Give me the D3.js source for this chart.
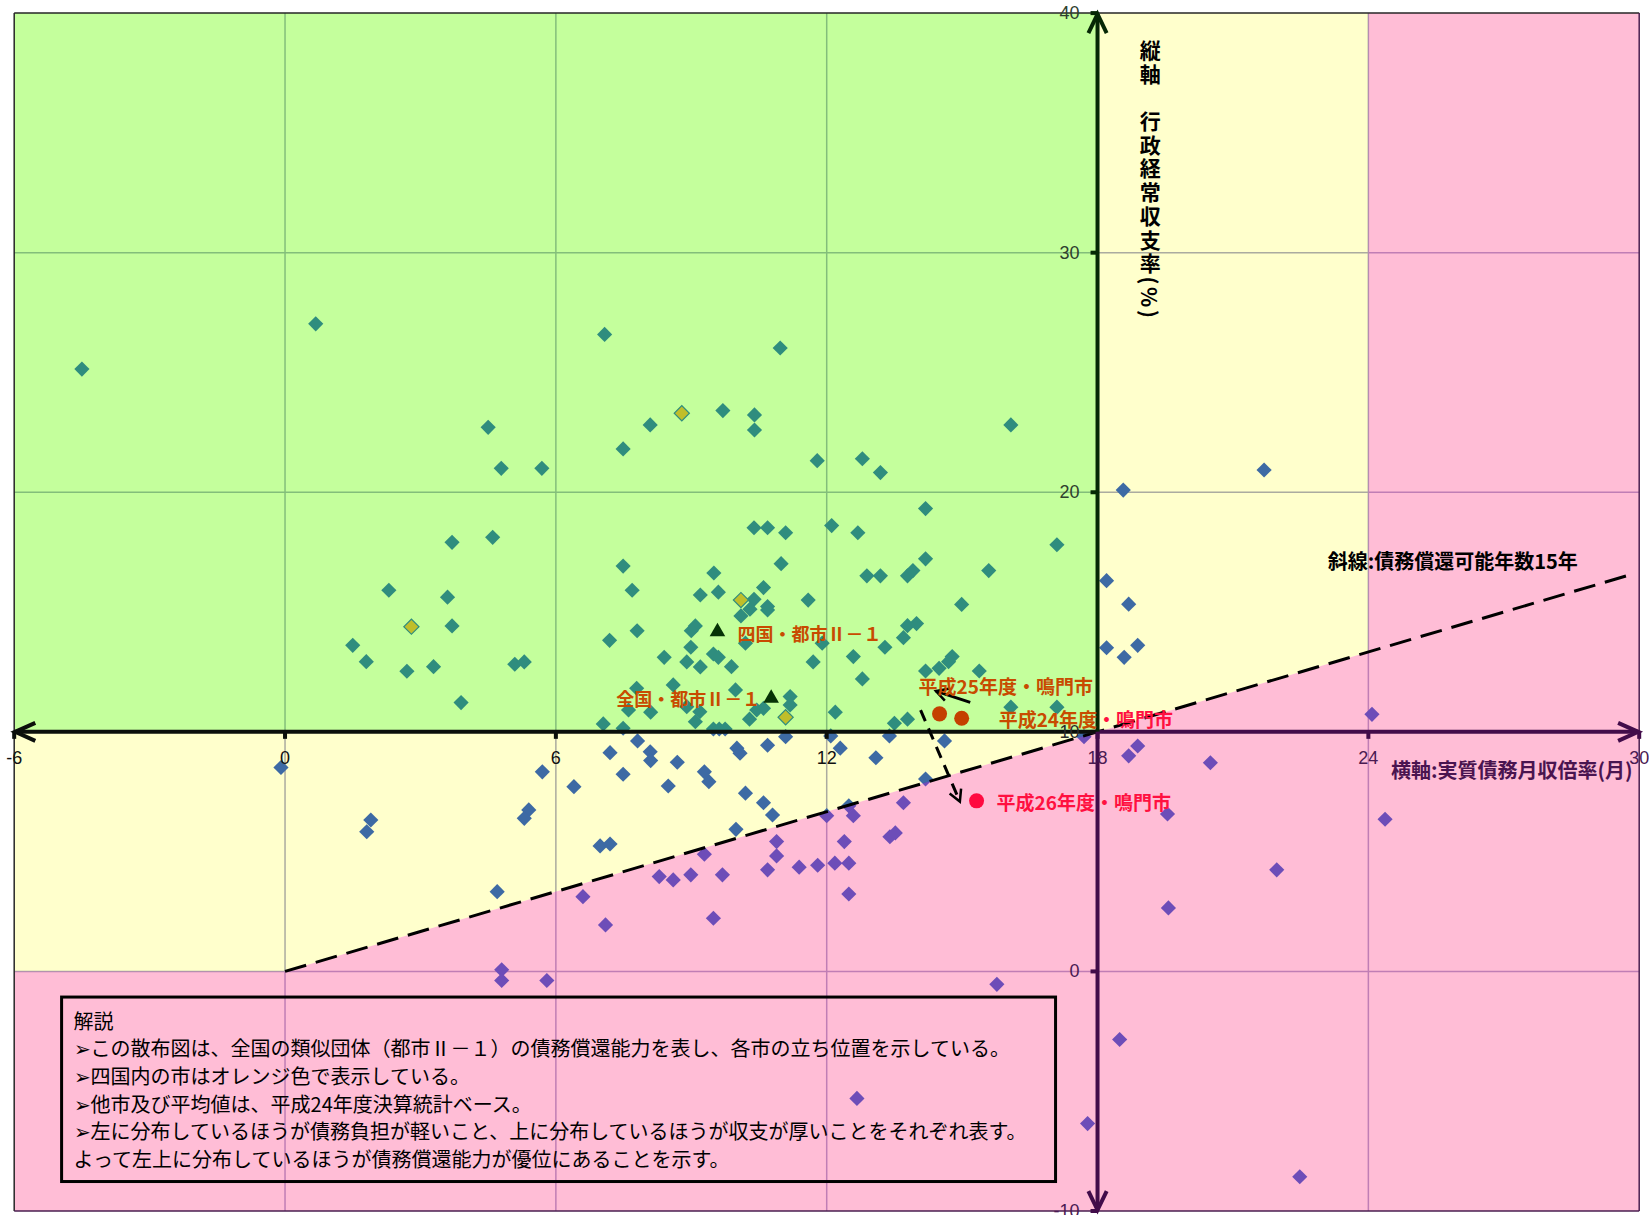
<!DOCTYPE html>
<html><head><meta charset="utf-8">
<script src="https://cdn.jsdelivr.net/npm/d3@7"></script>
<style>body{margin:0;background:#fff;}svg{display:block;}</style>
</head><body>
<svg id="c" width="1649" height="1215"></svg>
<script>
// ---------------- data ----------------
const xTicks = [-6, 0, 6, 12, 18, 24, 30];
const yTicks = [-10, 0, 10, 20, 30, 40];
const xGrid = [0, 6, 12, 24];
const yGrid = [0, 20, 30];
const crossX = 18, crossY = 10;
const repayYears = 15; // 斜線: 債務償還可能年数15年

// 全国の類似団体（都市Ⅱ－１） [実質債務月収倍率(月), 行政経常収支率(%)]
const nationalCities = [
 [-4.50,25.14],[0.68,27.03],[7.08,26.59],[10.97,26.02],[4.50,22.71],[4.79,21.00],[5.69,21.00],
 [3.70,17.91],[4.60,18.12],[2.30,15.91],[3.60,15.62],[3.70,14.42],[1.50,13.61],[1.80,12.93],
 [2.70,12.53],[3.29,12.72],[3.90,11.22],[5.09,12.82],[5.30,12.92],
 [9.70,23.41],[8.09,22.81],[10.40,23.23],[10.40,22.60],[7.49,21.81],[11.79,21.32],[12.11,18.61],
 [10.39,18.52],[10.69,18.52],[11.09,18.31],[7.49,16.92],[10.99,17.02],[9.50,16.63],[7.69,15.91],
 [9.20,15.71],[9.60,15.83],[10.60,16.02],[10.39,15.53],[10.30,15.12],[10.69,15.23],[10.69,15.09],
 [10.10,14.84],[11.59,15.50],[9.09,14.42],[9.00,14.22],[7.80,14.22],[7.19,13.82],[10.20,13.70],
 [11.90,13.70],[8.99,13.53],[8.40,13.11],[8.90,12.92],[9.49,13.25],[9.60,13.11],[9.20,12.71],
 [9.89,12.72],[11.70,12.92],[8.60,11.96],[7.79,11.82],[9.98,11.75],[11.19,11.47],[11.19,11.12],
 [7.61,10.91],[8.10,10.82],[8.90,11.05],[9.19,10.84],[10.45,10.91],[10.60,10.98],[10.29,10.53],
 [7.05,10.33],[7.49,10.15],[9.09,10.42],[12.19,10.82],[9.49,10.12],[9.62,10.12],[9.75,10.12],
 [16.08,22.81],[12.79,21.40],[13.19,20.82],[14.19,19.32],[12.69,18.31],[17.10,17.81],[14.19,17.22],
 [12.89,16.51],[13.19,16.51],[13.79,16.51],[13.91,16.73],[15.59,16.73],[14.99,15.32],[13.79,14.43],
 [13.99,14.52],[13.70,13.93],[13.29,13.53],[12.59,13.14],[12.79,12.21],[14.78,13.14],[14.70,12.93],
 [14.49,12.65],[14.19,12.54],[15.38,12.54],[16.08,11.03],[17.10,11.03],[13.50,10.36],[13.79,10.53],
 [7.81,9.62],[7.20,9.13],[8.09,9.17],[8.10,8.80],[8.69,8.73],[7.49,8.23],[6.40,7.71],[8.49,7.74],
 [9.29,8.33],[9.39,7.92],[10.01,9.32],[10.08,9.11],[10.69,9.44],[11.09,9.80],[12.09,9.83],
 [12.30,9.32],[13.09,8.92],[13.39,9.83],[14.61,9.62],[10.20,7.44],[10.60,7.04],[10.80,6.53],
 [9.99,5.93],[6.98,5.24],[7.20,5.32],[14.19,8.03],[-0.09,8.51],[1.90,6.32],[1.81,5.83],
 [5.40,6.74],[5.30,6.39],[5.70,8.33],[4.70,3.33],
 [18.20,16.31],[18.69,15.33],[18.20,13.51],[18.89,13.61],[18.59,13.11],[18.57,20.09],[21.69,20.93],
 [12.00,6.50],[12.49,6.91],[12.59,6.50],[13.70,7.04],[13.40,5.62],[13.52,5.78],[12.39,5.42],
 [12.49,4.52],[12.18,4.52],[11.80,4.43],[11.39,4.35],[10.89,5.42],[10.89,4.82],[10.69,4.24],
 [9.69,4.03],[8.99,4.03],[8.60,3.82],[8.29,3.96],[9.29,4.89],[6.60,3.12],[7.10,1.94],[9.49,2.22],
 [12.49,3.23],[4.80,0.07],[4.80,-0.38],[5.80,-0.38],[17.70,9.80],[24.08,10.73],[18.89,9.41],
 [18.69,9.00],[20.50,8.71],[19.55,6.57],[24.37,6.35],[21.97,4.24],[19.57,2.65],[15.77,-0.54],
 [18.49,-2.84],[17.78,-6.35],[22.48,-8.57],[12.67,-5.30]
];
// 四国内の市（オレンジ色）
const shikokuCities = [[8.79,23.30],[10.10,15.50],[2.80,14.39],[11.09,10.61]];

// 平均値
const avgNames = ["四国・都市Ⅱ－１", "全国・都市Ⅱ－１"];
const avgX = [9.58, 10.77];
const avgY = [14.18, 11.40];

// 鳴門市
const narutoNames = ["平成24年度・鳴門市", "平成25年度・鳴門市", "平成26年度・鳴門市"];
const narutoX = [14.99, 14.50, 15.32];
const narutoY = [10.57, 10.75, 7.12];

const notes = [
 "解説",
 "➢この散布図は、全国の類似団体（都市Ⅱ－１）の債務償還能力を表し、各市の立ち位置を示している。",
 "➢四国内の市はオレンジ色で表示している。",
 "➢他市及び平均値は、平成24年度決算統計ベース。",
 "➢左に分布しているほうが債務負担が軽いこと、上に分布しているほうが収支が厚いことをそれぞれ表す。",
 "よって左上に分布しているほうが債務償還能力が優位にあることを示す。"
];

// ---------------- drawing ----------------
const W = 1649, H = 1215;
const x = d3.scaleLinear().domain([-6, 30]).range([14.2, 1639.2]);
const y = d3.scaleLinear().domain([-10, 40]).range([1211, 13.1]);
const lineY = v => v * 100 / (12 * repayYears);
const svg = d3.select("#c");
const CJK = "'Noto Sans CJK JP','Noto Sans',sans-serif";
const NUM = "'Liberation Sans','DejaVu Sans',sans-serif";

svg.append("rect").attr("width", W).attr("height", H).attr("fill", "#fff");

const baseG = svg.append("g");
// gridlines
baseG.selectAll("line.gx").data(xGrid).join("line").attr("class", "gx")
  .attr("x1", d => x(d)).attr("x2", d => x(d)).attr("y1", y(40)).attr("y2", y(-10))
  .attr("stroke", "rgb(150,150,200)").attr("stroke-width", 1.5);
baseG.selectAll("line.gy").data(yGrid).join("line").attr("class", "gy")
  .attr("y1", d => y(d)).attr("y2", d => y(d)).attr("x1", x(-6)).attr("x2", x(30))
  .attr("stroke", "rgb(150,150,200)").attr("stroke-width", 1.5);

// markers
const diamond = d3.symbol().type(d3.symbolSquare).size(115);
baseG.selectAll("path.nat").data(nationalCities).join("path").attr("class", "nat")
  .attr("d", diamond)
  .attr("transform", d => `translate(${x(d[0])},${y(d[1])}) rotate(45)`)
  .attr("fill", "rgb(13,69,206)");
baseG.selectAll("path.shk").data(shikokuCities).join("path").attr("class", "shk")
  .attr("d", diamond)
  .attr("transform", d => `translate(${x(d[0])},${y(d[1])}) rotate(45)`)
  .attr("fill", "rgb(248,150,70)").attr("stroke", "rgb(13,69,206)").attr("stroke-width", 1.2);

// translucent regions
const greenPoly = [[-6, crossY], [crossX, crossY], [crossX, 40], [-6, 40]];
const yellowPoly = [[-6, 0], [0, 0], [24, lineY(24)], [24, 40], [crossX, 40], [crossX, crossY], [-6, crossY]];
const pinkPoly = [[-6, -10], [30, -10], [30, 40], [24, 40], [24, lineY(24)], [0, 0], [-6, 0]];
const poly = d3.line().x(d => x(d[0])).y(d => y(d[1]));
const ov = svg.append("g");
ov.append("path").attr("d", poly(greenPoly) + "Z").attr("fill", "rgba(104,255,1,0.39)");
ov.append("path").attr("d", poly(yellowPoly) + "Z").attr("fill", "rgba(255,255,0,0.2)");
ov.append("path").attr("d", poly(pinkPoly) + "Z").attr("fill", "rgba(255,90,152,0.4)");

const topG = svg.append("g");
// plot border
topG.append("line").attr("x1", x(-6)).attr("x2", x(30)).attr("y1", y(40)).attr("y2", y(40)).attr("stroke", "#262626").attr("stroke-width", 1.5);
topG.append("line").attr("x1", x(-6)).attr("x2", x(-6)).attr("y1", y(40)).attr("y2", y(-10)).attr("stroke", "#262626").attr("stroke-width", 1.5);
topG.append("line").attr("x1", x(30)).attr("x2", x(30)).attr("y1", y(40)).attr("y2", y(-10)).attr("stroke", "#4a1f50").attr("stroke-width", 1.5);
topG.append("line").attr("x1", x(-6)).attr("x2", x(30)).attr("y1", y(-10)).attr("y2", y(-10)).attr("stroke", "#4a1f50").attr("stroke-width", 1.5);

// dashed 15-year line
topG.append("line").attr("x1", x(0)).attr("y1", y(0)).attr("x2", x(29.75)).attr("y2", y(lineY(29.75)))
  .attr("stroke", "#000").attr("stroke-width", 3).attr("stroke-dasharray", "22,10");

// axes
const dark = "#0b0f0b", darkG = "#062806", purp = "#420c4a";
function seg(x1, y1, x2, y2, c, w) {
  topG.append("line").attr("x1", x1).attr("y1", y1).attr("x2", x2).attr("y2", y2)
    .attr("stroke", c).attr("stroke-width", w);
}
function head(tx, ty, fx, fy, len, ang, c, w, g) {
  const a = Math.atan2(fy - ty, fx - tx);
  const p1 = [tx + len * Math.cos(a + ang), ty + len * Math.sin(a + ang)];
  const p2 = [tx + len * Math.cos(a - ang), ty + len * Math.sin(a - ang)];
  (g || topG).append("path").attr("d", `M${p1[0]},${p1[1]}L${tx},${ty}L${p2[0]},${p2[1]}`)
    .attr("fill", "none").attr("stroke", c).attr("stroke-width", w)
    .attr("stroke-linejoin", "miter").attr("stroke-linecap", "butt");
}
const ax = x(crossX), ay = y(crossY);
// ticks
xTicks.forEach(t => {
  topG.append("rect").attr("x", x(t) - 2).attr("y", ay).attr("width", 4).attr("height", 7)
    .attr("fill", t >= crossX ? purp : dark);
});
yTicks.forEach(t => {
  topG.append("rect").attr("x", ax - 7).attr("y", y(t) - 2).attr("width", 7).attr("height", 4)
    .attr("fill", t <= crossY ? purp : darkG);
});
seg(x(-6) + 1, ay, ax, ay, dark, 4);
seg(ax, ay, x(30) - 1, ay, purp, 4);
seg(ax, y(40) + 1, ax, ay, darkG, 4);
seg(ax, ay, ax, y(-10) - 1, purp, 4);
head(x(-6) + 1, ay, x(0), ay, 22, 0.42, dark, 4);
head(x(30) - 1, ay, x(24), ay, 22, 0.42, purp, 4);
head(ax, y(40) + 1, ax, y(30), 21, 0.45, darkG, 4);
head(ax, y(-10) - 1, ax, y(0), 21, 0.45, purp, 4);

// tick labels
topG.selectAll("text.xl").data(xTicks).join("text").attr("class", "xl")
  .attr("x", d => x(d)).attr("y", ay + 26).attr("text-anchor", "middle")
  .attr("dominant-baseline", "central").attr("font-family", NUM).attr("font-size", 18)
  .attr("fill", d => d >= crossX ? "#4a1a52" : "#111").text(d => d);
topG.selectAll("text.yl").data(yTicks).join("text").attr("class", "yl")
  .attr("x", ax - 18).attr("y", d => y(d)).attr("text-anchor", "end")
  .attr("dominant-baseline", "central").attr("font-family", NUM).attr("font-size", 18)
  .attr("fill", d => d < crossY ? "#4a1a52" : (d === crossY ? "#2a2a2a" : "#2e402e")).text(d => d);

// average triangles + labels
const tri = d3.symbol().type(d3.symbolTriangle).size(105);
avgX.forEach((v, i) => {
  topG.append("path").attr("d", tri).attr("transform", `translate(${x(v)},${y(avgY[i])})`).attr("fill", "#063306");
});
const orange = "#c84b00", red = "#ff1040";
topG.append("text").attr("x", x(avgX[0]) + 20).attr("y", y(avgY[0]) + 1).attr("dominant-baseline", "central")
  .attr("font-family", CJK).attr("font-weight", "bold").attr("font-size", 18).attr("fill", orange).text(avgNames[0]);
topG.append("text").attr("x", x(avgX[1]) - 11).attr("y", y(avgY[1])).attr("text-anchor", "end").attr("dominant-baseline", "central")
  .attr("font-family", CJK).attr("font-weight", "bold").attr("font-size", 18).attr("fill", orange).text(avgNames[1]);

// annotation arrows (Naruto trend)
const ann = topG.append("g");
ann.append("line").attr("x1", x(15.18)).attr("y1", y(11.23)).attr("x2", x(14.42)).attr("y2", y(11.70))
  .attr("stroke", "#000").attr("stroke-width", 3);
head(x(14.42), y(11.70), x(15.18), y(11.23), 13, 0.5, "#000", 2.5, ann);
ann.append("line").attr("x1", x(14.08)).attr("y1", y(10.91)).attr("x2", x(14.95)).attr("y2", y(7.09))
  .attr("stroke", "#000").attr("stroke-width", 3).attr("stroke-dasharray", "12,8");
head(x(14.95), y(7.09), x(14.08), y(10.91), 13, 0.5, "#000", 2.5, ann);

// Naruto circles
const circ = d3.symbol().type(d3.symbolCircle).size(177);
const narutoColors = ["#c44000", "#c44000", "#ff0a40"];
narutoX.forEach((v, i) => {
  topG.append("path").attr("d", circ).attr("transform", `translate(${x(v)},${y(narutoY[i])})`).attr("fill", narutoColors[i]);
});
// labels
const t24 = topG.append("text").attr("x", x(narutoX[0]) + 37).attr("y", y(narutoY[0])).attr("dominant-baseline", "central")
  .attr("font-family", CJK).attr("font-weight", "bold").attr("font-size", 19);
t24.append("tspan").attr("fill", orange).text(narutoNames[0].split("・")[0]);
t24.append("tspan").attr("fill", red).text("・" + narutoNames[0].split("・")[1]);
topG.append("text").attr("x", x(narutoX[1]) - 21).attr("y", y(narutoY[1]) - 28).attr("dominant-baseline", "central")
  .attr("font-family", CJK).attr("font-weight", "bold").attr("font-size", 19).attr("fill", orange).text(narutoNames[1]);
topG.append("text").attr("x", x(narutoX[2]) + 20).attr("y", y(narutoY[2]) + 1).attr("dominant-baseline", "central")
  .attr("font-family", CJK).attr("font-weight", "bold").attr("font-size", 19).attr("fill", red).text(narutoNames[2]);

// axis titles
topG.append("text").attr("x", x(23.1)).attr("y", y(17.17)).attr("dominant-baseline", "central")
  .attr("font-family", CJK).attr("font-weight", "bold").attr("font-size", 20).attr("fill", "#000")
  .text("斜線:債務償還可能年数15年");
topG.append("text").attr("x", x(24.5)).attr("y", y(8.41)).attr("dominant-baseline", "central")
  .attr("font-family", CJK).attr("font-weight", "bold").attr("font-size", 20).attr("fill", "#4a1450")
  .text("横軸:実質債務月収倍率(月)");

// vertical title (single vertical text)
topG.append("text").attr("x", x(19.17)).attr("y", y(38.44) - 11)
  .style("writing-mode", "vertical-rl")
  .attr("font-family", CJK).attr("font-weight", "bold").attr("font-size", 21)
  .attr("letter-spacing", 2.7).attr("fill", "#000")
  .text("縦軸　行政経常収支率(%)");

// explanation box
const bx0 = x(-4.95), bx1 = x(17.07), by0 = y(-1.07), by1 = y(-8.77);
topG.append("rect").attr("x", bx0).attr("y", by0).attr("width", bx1 - bx0).attr("height", by1 - by0)
  .attr("fill", "none").attr("stroke", "#000").attr("stroke-width", 3);
notes.forEach((n, i) => {
  topG.append("text").attr("x", bx0 + 12).attr("y", by0 + 23 + i * 27.7).attr("dominant-baseline", "central")
    .attr("font-family", CJK).attr("font-size", 20).attr("fill", "#000").text(n);
});
</script>
</body></html>
